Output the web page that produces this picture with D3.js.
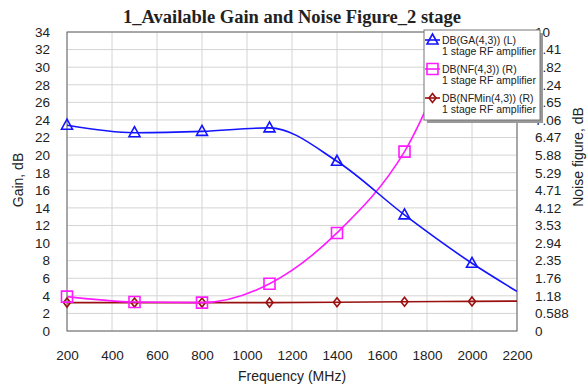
<!DOCTYPE html>
<html>
<head>
<meta charset="utf-8">
<script src="https://cdn.jsdelivr.net/npm/d3@7"></script>
<style>
  html, body { margin: 0; padding: 0; background: #fff; }
  svg { display: block; }
  text { font-family: Arial, "Liberation Sans", sans-serif; fill: #222; }
</style>
</head>
<body>
<svg id="chart" width="588" height="389"></svg>
<script>
// ---- data ----
const freqs = [200, 500, 800, 1100, 1400, 1700, 2000, 2200];
const markerFreqs = [200, 500, 800, 1100, 1400, 1700, 2000];
const gainGA = [23.4, 22.55, 22.7, 23.1, 19.3, 13.2, 7.7, 4.5];        // left axis, dB
const noiseNF = [1.15, 0.97, 0.95, 1.58, 3.28, 6.0, 10.8, 13.5];        // right axis, dB
const noiseNFMin = [0.95, 0.95, 0.95, 0.95, 0.96, 0.98, 0.99, 1.0];     // right axis, dB
const xTicks = [200, 400, 600, 800, 1000, 1200, 1400, 1600, 1800, 2000, 2200];
const leftTicks = d3.range(0, 36, 2);
const rightTickLabels = ["0", "0.588", "1.18", "1.76", "2.35", "2.94", "3.53", "4.12", "4.71", "5.29", "5.88", "6.47", "7.06", "7.65", "8.24", "8.82", "9.41", "10"];
const legendItems = [
  { name: "DB(GA(4,3)) (L)", sub: "1 stage RF amplifier", color: "#1414ff", marker: "tri" },
  { name: "DB(NF(4,3)) (R)", sub: "1 stage RF amplifier", color: "#ff1aff", marker: "sq" },
  { name: "DB(NFMin(4,3)) (R)", sub: "1 stage RF amplifier", color: "#9a1010", marker: "dia" }
];
const title = "1_Available Gain and Noise Figure_2 stage";

// ---- layout ----
const svg = d3.select("#chart");
const L = 67, R = 517, T = 32, B = 331;
const x = d3.scaleLinear().domain([200, 2200]).range([L, R]);
const yL = d3.scaleLinear().domain([0, 34]).range([B, T]);
const yR = d3.scaleLinear().domain([0, 10]).range([B, T]);

// gridlines
const grid = svg.append("g");
grid.selectAll("line.v").data(xTicks).enter().append("line")
  .attr("x1", d => x(d)).attr("x2", d => x(d)).attr("y1", T).attr("y2", B)
  .attr("stroke", "#d4d4d4").attr("stroke-width", 1);
grid.selectAll("line.h").data(leftTicks).enter().append("line")
  .attr("x1", L).attr("x2", R).attr("y1", d => yL(d)).attr("y2", d => yL(d))
  .attr("stroke", "#d4d4d4").attr("stroke-width", 1);

// frame
svg.append("rect").attr("x", L).attr("y", T).attr("width", R - L).attr("height", B - T)
  .attr("fill", "none").attr("stroke", "#666").attr("stroke-width", 1);

// axes (labels only)
const axL = svg.append("g").attr("transform", `translate(${L},0)`)
  .call(d3.axisLeft(yL).tickValues(leftTicks).tickSize(0).tickPadding(17));
const axR = svg.append("g").attr("transform", `translate(${R},0)`)
  .call(d3.axisRight(yR).tickValues(d3.range(18).map(i => i * 10 / 17)).tickSize(0).tickPadding(18)
    .tickFormat((d, i) => rightTickLabels[i]));
const axB = svg.append("g").attr("transform", `translate(0,${B})`)
  .call(d3.axisBottom(x).tickValues(xTicks).tickSize(0).tickPadding(19).tickFormat(d3.format("d")));
[axL, axR, axB].forEach(a => {
  a.select(".domain").remove();
  a.selectAll("text").style("font-size", "13.5px").style("font-family", "Arial, 'Liberation Sans', sans-serif").attr("fill", "#222");
});

// titles
svg.append("text").attr("x", 292).attr("y", 23).attr("text-anchor", "middle")
  .style("font-family", "'Liberation Serif', 'Times New Roman', serif").style("font-weight", "bold").style("font-size", "18.5px")
  .attr("fill", "#111").text(title);
svg.append("text").attr("transform", "translate(23,180) rotate(-90)").attr("text-anchor", "middle")
  .style("font-size", "14px").text("Gain, dB");
svg.append("text").attr("transform", "translate(583,157) rotate(-90)").attr("text-anchor", "middle")
  .style("font-size", "14px").text("Noise figure, dB");
svg.append("text").attr("x", 292).attr("y", 381).attr("text-anchor", "middle")
  .style("font-size", "14px").text("Frequency (MHz)");

// clip
const defs = svg.append("defs");
defs.append("clipPath").attr("id", "plotclip")
  .append("rect").attr("x", L - 10).attr("y", T).attr("width", R - L + 10).attr("height", B - T + 10);
defs.append("clipPath").attr("id", "lineclip")
  .append("rect").attr("x", L).attr("y", T).attr("width", R - L).attr("height", B - T);

const series = [
  { vals: gainGA, y: yL, color: legendItems[0].color, marker: "tri" },
  { vals: noiseNF, y: yR, color: legendItems[1].color, marker: "sq" },
  { vals: noiseNFMin, y: yR, color: legendItems[2].color, marker: "dia" }
];

function markerPath(type) {
  if (type === "tri") return "M0,-6L5.5,4L-5.5,4Z";
  if (type === "sq") return "M-5.5,-5.5H5.5V5.5H-5.5Z";
  return "M0,-4.5L3.5,0L0,4.5L-3.5,0Z";
}

const plot = svg.append("g").attr("clip-path", "url(#plotclip)");

// draw in order: NFmin, NF, GA
[series[2], series[1], series[0]].forEach(s => {
  const pts = freqs.map((f, i) => [f, s.vals[i]]);
  const line = d3.line().x(d => x(d[0])).y(d => s.y(d[1])).curve(d3.curveMonotoneX);
  plot.append("path").attr("d", line(pts)).attr("fill", "none")
    .attr("stroke", s.color).attr("stroke-width", 1.6).attr("clip-path", "url(#lineclip)");
  plot.selectAll(null).data(pts.filter(d => markerFreqs.includes(d[0]))).enter().append("path")
    .attr("d", markerPath(s.marker))
    .attr("transform", d => `translate(${x(d[0])},${s.y(d[1])})`)
    .attr("fill", "none").attr("stroke", s.color).attr("stroke-width", 1.6);
});

// legend
const lg = svg.append("g");
lg.append("rect").attr("x", 427).attr("y", 33).attr("width", 116).attr("height", 90).attr("fill", "#999");
lg.append("rect").attr("x", 424).attr("y", 30).attr("width", 116).attr("height", 90)
  .attr("fill", "#fff").attr("stroke", "#777").attr("stroke-width", 1);
legendItems.forEach((it, i) => {
  const yy = 40 + i * 29;
  lg.append("line").attr("x1", 425).attr("x2", 440).attr("y1", yy).attr("y2", yy)
    .attr("stroke", it.color).attr("stroke-width", 1.6);
  lg.append("path").attr("d", markerPath(it.marker)).attr("transform", `translate(432.5,${yy})`)
    .attr("fill", "none").attr("stroke", it.color).attr("stroke-width", 1.6);
  lg.append("text").attr("x", 442).attr("y", yy + 4).style("font-size", "10.5px").text(it.name);
  lg.append("text").attr("x", 442).attr("y", yy + 15).style("font-size", "10.5px").text(it.sub);
});
</script>
</body>
</html>
